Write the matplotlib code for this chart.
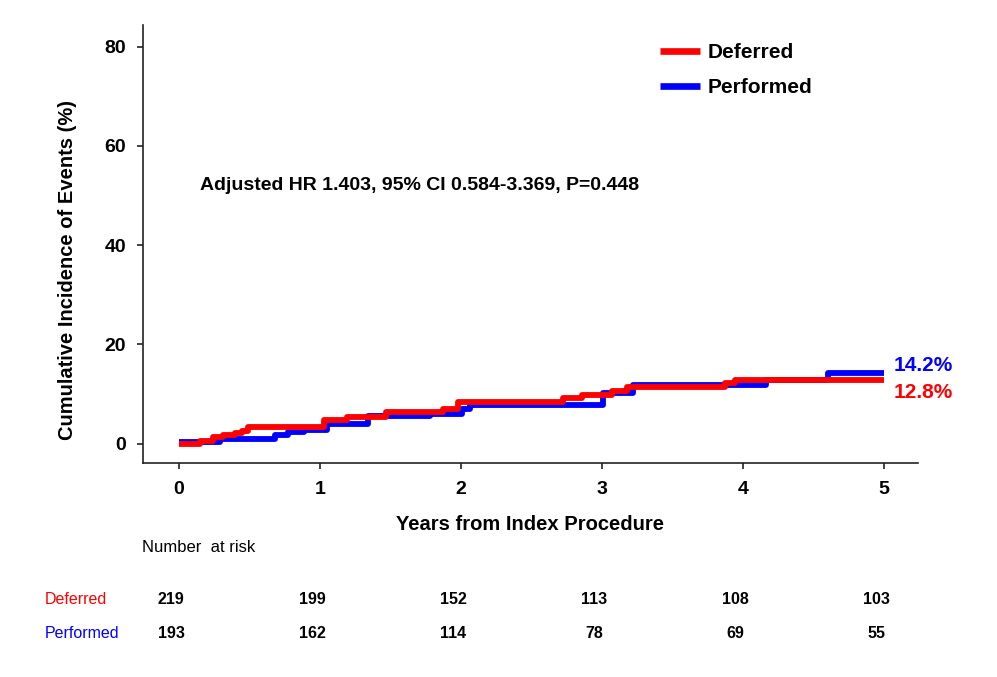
import matplotlib
matplotlib.use("Agg")
import matplotlib.pyplot as plt
import matplotlib.transforms as mtransforms

plt.rcParams['font.family'] = ['Liberation Sans', 'DejaVu Sans']

# ---- data ----
years_deferred = [0, 0.15, 0.24, 0.31, 0.40, 0.45, 0.49, 1.03, 1.19, 1.47, 1.87, 1.98,
                  2.72, 2.86, 3.07, 3.18, 3.87, 3.94, 5.0]
inc_deferred = [0.0, 0.6, 1.3, 1.7, 2.1, 2.6, 3.4, 4.7, 5.4, 6.4, 6.9, 8.3,
                9.1, 9.8, 10.6, 11.4, 12.2, 12.9, 12.9]

years_performed = [0, 0.29, 0.68, 0.77, 0.89, 1.05, 1.34, 1.78, 2.01, 2.06,
                   3.01, 3.22, 4.16, 4.60, 5.0]
inc_performed = [0.4, 0.9, 1.7, 2.3, 2.7, 3.9, 5.5, 5.9, 7.0, 7.8,
                 10.2, 11.8, 12.9, 14.3, 14.3]

x_ticks = [0, 1, 2, 3, 4, 5]
y_ticks = [0, 20, 40, 60, 80]
risk_deferred = [219, 199, 152, 113, 108, 103]
risk_performed = [193, 162, 114, 78, 69, 55]
final_deferred_label = "12.8%"
final_performed_label = "14.2%"
annotation = "Adjusted HR 1.403, 95% CI 0.584-3.369, P=0.448"

RED = "#FF0000"
BLUE = "#0000FF"

W, H = 997, 677
fig = plt.figure(figsize=(W / 100, H / 100), dpi=100)
fig.patch.set_facecolor("white")

# axes in pixel box: left 143, right 918, top 25, bottom 463
ax = fig.add_axes([143 / W, 1 - 463 / H, (918 - 143) / W, (463 - 25) / H])
ax.set_xlim(-0.255, 5.24)
ax.set_ylim(-3.93, 84.4)

ax.plot(years_performed, inc_performed, drawstyle="steps-post", color=BLUE,
        lw=4.2, solid_capstyle="butt", label="Performed", zorder=3)
ax.plot(years_deferred, inc_deferred, drawstyle="steps-post", color=RED,
        lw=4.2, solid_capstyle="butt", label="Deferred", zorder=4)

for s in ["top", "right"]:
    ax.spines[s].set_visible(False)
for s in ["left", "bottom"]:
    ax.spines[s].set_linewidth(1.2)
    ax.spines[s].set_color("#222222")

ax.set_xticks(x_ticks)
ax.set_yticks(y_ticks)
ax.set_xticklabels([str(t) for t in x_ticks], fontsize=14, fontweight="bold")
ax.set_yticklabels([str(t) for t in y_ticks], fontsize=14, fontweight="bold")
ax.tick_params(axis="both", direction="out", length=4, width=1.2, color="#222222")
ax.tick_params(axis="x", pad=9)
ax.tick_params(axis="y", pad=8)

# legend (order: Deferred then Performed)
h, l = ax.get_legend_handles_labels()
order = [1, 0]
leg = fig.legend([h[i] for i in order], [l[i] for i in order],
                 loc="upper left", bbox_to_anchor=(660 / W, 1 - 43 / H),
                 frameon=False, prop={"size": 15, "weight": "bold"},
                 handlelength=1.9, handletextpad=0.4, labelspacing=0.78,
                 borderpad=0, borderaxespad=0)
for line in leg.get_lines():
    line.set_linewidth(4.8)

# annotation
ax.text(0.15, 52.1, annotation, fontsize=14, fontweight="bold", va="center", ha="left")

# end labels
ax.text(5.065, 15.8, final_performed_label, color=BLUE, fontsize=15,
        fontweight="bold", va="center", ha="left")
ax.text(5.065, 10.2, final_deferred_label, color=RED, fontsize=15,
        fontweight="bold", va="center", ha="left")

# axis labels
fig.text(530 / W, 1 - 525 / H, "Years from Index Procedure", fontsize=14.5,
         fontweight="bold", ha="center", va="center")
fig.text(68 / W, 1 - 270 / H, "Cumulative Incidence of Events (%)", fontsize=14.5,
         fontweight="bold", ha="center", va="center", rotation=90)

# number at risk table
fig.text(142 / W, 1 - 548 / H, "Number  at risk", fontsize=12, ha="left", va="center")
fig.text(45 / W, 1 - 600 / H, "Deferred", fontsize=11.5, color=RED, ha="left", va="center")
fig.text(45 / W, 1 - 633 / H, "Performed", fontsize=11.5, color=BLUE, ha="left", va="center")

trans = mtransforms.blended_transform_factory(ax.transData, fig.transFigure)
offset = mtransforms.ScaledTranslation(-8 / 100, 0, fig.dpi_scale_trans)
for t, nd, npf in zip(x_ticks, risk_deferred, risk_performed):
    ax.text(t, 1 - 600 / H, str(nd), transform=trans + offset, fontsize=11.5,
            fontweight="bold", ha="center", va="center", clip_on=False)
    ax.text(t, 1 - 633 / H, str(npf), transform=trans + offset, fontsize=11.5,
            fontweight="bold", ha="center", va="center", clip_on=False)

fig.savefig("out.png", dpi=100, facecolor="white")
